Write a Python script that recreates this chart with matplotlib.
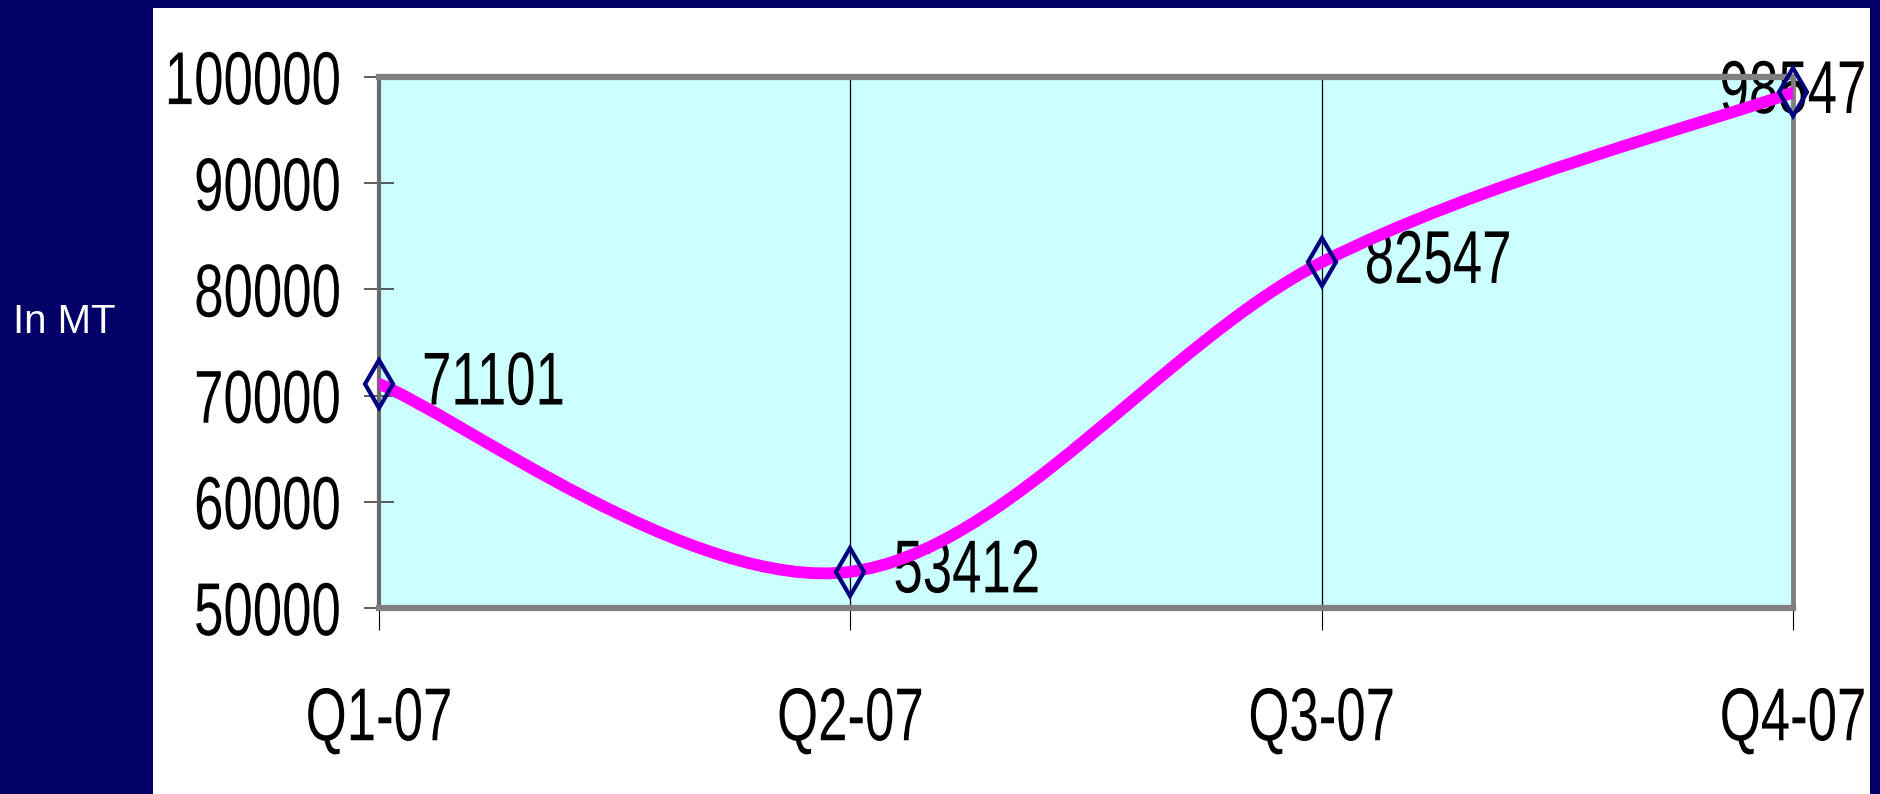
import matplotlib
matplotlib.use("Agg")
import matplotlib.pyplot as plt
from matplotlib.path import Path
from matplotlib.patches import PathPatch, Rectangle
from matplotlib.patheffects import AbstractPathEffect
from matplotlib.transforms import Affine2D

# quarterly volumes (metric tonnes)
quarters = ["Q1-07", "Q2-07", "Q3-07", "Q4-07"]
volumes = [71101, 53412, 82547, 98547]
y_ticks = [50000, 60000, 70000, 80000, 90000, 100000]

NAVY = "#000066"
PLOT_BG = "#CCFFFF"
LINE = "#FF00FF"
MARKER = "#000080"
FONT = ["Liberation Sans", "DejaVu Sans"]
FS = 38          # label font size
TALL = 1.42      # vertical stretch giving the tall, condensed look


class Stretch(AbstractPathEffect):
    """Draw text glyphs stretched vertically about their top, bottom or centre."""

    def __init__(self, sy, anchor="center"):
        super().__init__()
        self._sy = sy
        self._anchor = anchor

    def draw_path(self, renderer, gc, tpath, affine, rgbFace=None):
        pts = affine.transform(tpath.vertices)
        if len(pts) == 0:
            return
        y0, y1 = pts[:, 1].min(), pts[:, 1].max()
        cy = {"bottom": y0, "top": y1, "center": 0.5 * (y0 + y1)}[self._anchor]
        t = affine + Affine2D().translate(0, -cy).scale(1, self._sy).translate(0, cy)
        renderer.draw_path(gc, tpath, t, rgbFace)


W, H, DPI = 1881, 794, 100
fig = plt.figure(figsize=(W / DPI, H / DPI), dpi=DPI, facecolor=NAVY)

# white chart panel
fig.patches.append(Rectangle((153 / W, 0), (1870 - 153) / W, (H - 8) / H,
                             transform=fig.transFigure, facecolor="white",
                             edgecolor="none", zorder=0))

fig.text(64 / W, 1 - 322 / H, "In MT", color="white", fontsize=29,
         family=FONT, ha="center", va="center")

ax = fig.add_axes([379 / W, 1 - 608 / H, (1793 - 379) / W, (608 - 77) / H])
ax.set_zorder(2)
ax.set_facecolor(PLOT_BG)

x = list(range(len(quarters)))

# smoothed curve through the points (cubic Bezier, Catmull-Rom style tangents)
pts = list(zip(x, volumes))
verts = [pts[0]]
codes = [Path.MOVETO]
n = len(pts)
for i in range(n - 1):
    p0 = pts[max(i - 1, 0)]
    p1 = pts[i]
    p2 = pts[i + 1]
    p3 = pts[min(i + 2, n - 1)]
    c1 = (p1[0] + (p2[0] - p0[0]) / 6, p1[1] + (p2[1] - p0[1]) / 6)
    c2 = (p2[0] - (p3[0] - p1[0]) / 6, p2[1] - (p3[1] - p1[1]) / 6)
    verts += [c1, c2, p2]
    codes += [Path.CURVE4] * 3
curve = PathPatch(Path(verts, codes), fill=False, edgecolor=LINE, lw=8.5,
                  capstyle="round", joinstyle="round", zorder=3)
ax.add_patch(curve)

ax.plot(x, volumes, ls="none", marker="d", ms=24.5, mfc="none", mec=MARKER,
        mew=3.0, zorder=4, clip_on=False)

# value labels (drawn beneath the line and markers)
for i, v in enumerate(volumes):
    last = i == len(volumes) - 1
    ax.annotate(str(v), (x[i], v),
                xytext=(0, -15) if last else (31, -15), textcoords="offset points",
                ha="center" if last else "left", va="baseline",
                fontsize=FS, family=FONT, color="black", zorder=2.5,
                annotation_clip=False,
                path_effects=[Stretch(TALL, "bottom")])

ax.set_xlim(0, len(quarters) - 1)
ax.set_ylim(y_ticks[0], y_ticks[-1])
ax.set_xticks(x)
ax.set_xticklabels(quarters)
ax.set_yticks(y_ticks)
ax.set_yticklabels([str(t) for t in y_ticks])

for lab in ax.get_xticklabels():
    lab.set_fontfamily(FONT)
    lab.set_fontsize(FS)
    lab.set_color("black")
    lab.set_path_effects([Stretch(TALL, "top")])
for lab in ax.get_yticklabels():
    lab.set_fontfamily(FONT)
    lab.set_fontsize(FS)
    lab.set_color("black")
    lab.set_path_effects([Stretch(TALL, "center")])

ax.tick_params(axis="y", direction="inout", length=21.5, width=1.1,
               color="#303030", pad=17)
ax.tick_params(axis="x", direction="out", length=16, width=0.8,
               color="black", pad=40)

ax.grid(axis="x", color="black", lw=0.9)
ax.grid(axis="y", visible=False)
ax.set_axisbelow(True)

for side in ("top", "bottom"):
    ax.spines[side].set_color("#808080")
    ax.spines[side].set_linewidth(4.5)
ax.spines["right"].set_color("#808080")
ax.spines["right"].set_linewidth(3.5)
ax.spines["left"].set_color("#6a6a6a")
ax.spines["left"].set_linewidth(3)

fig.savefig("out.png", dpi=DPI, facecolor=NAVY)
